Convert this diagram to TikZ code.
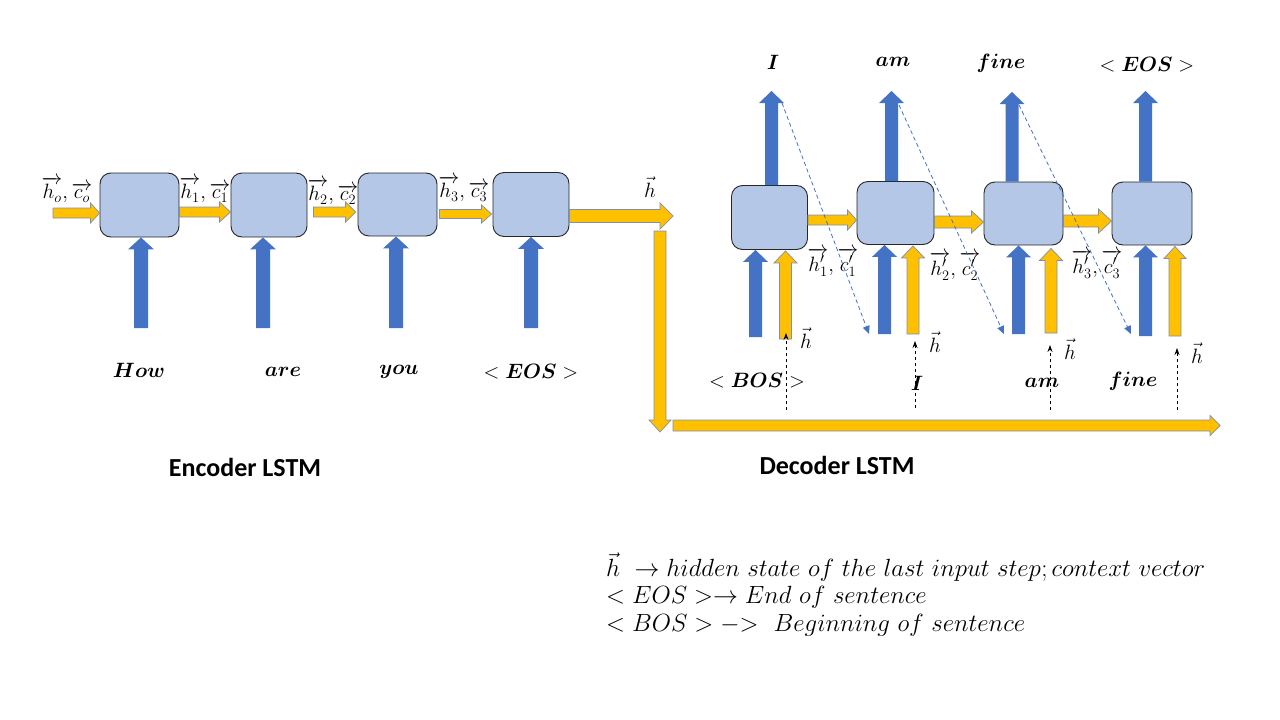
\documentclass[tikz,border=0pt]{standalone}
\usepackage{amsmath}
\usepackage{bm}
\usepackage{fontspec}
\newfontfamily\carlito{Carlito}
\usetikzlibrary{calc,arrows.meta}
\definecolor{ublue}{HTML}{4472C4}
\definecolor{uyellow}{HTML}{FFC000}
\definecolor{ubox}{HTML}{B4C7E7}
\definecolor{uline}{HTML}{7F8FB0}
% fat block arrow: [style]{start}{end}{shaft half width}{head half width}{head length}
\newcommand\fatarr[6][]{%
  \coordinate (fas) at (#2);
  \coordinate (fae) at (#3);
  \coordinate (fan) at ($(fae)!#6!(fas)$);
  \path[#1] ($(fas)!#4!90:(fae)$) -- ($(fan)!#4!90:(fae)$) -- ($(fan)!#5!90:(fae)$)
    -- (fae) -- ($(fan)!#5!-90:(fae)$) -- ($(fan)!#4!-90:(fae)$) -- ($(fas)!#4!-90:(fae)$) -- cycle;}
\tikzset{
  cell/.style={fill=ubox, draw=black!85, line width=0.9pt, rounded corners=11pt, inner sep=0pt},
  yarr/.style={fill=uyellow, draw=uline, line width=0.7pt, line join=miter},
  barr/.style={fill=ublue},
  lbl/.style={inner sep=0pt, font=\fontsize{20}{24}\selectfont},
  word/.style={inner sep=0pt, font=\fontsize{20}{24}\selectfont},
  title/.style={inner sep=0pt, font=\carlito\bfseries\fontsize{26}{30}\selectfont},
  legend/.style={inner sep=0pt, anchor=west, font=\fontsize{25}{30}\selectfont},
  diag/.style={draw=ublue, line width=0.8pt, dash pattern=on 4pt off 3pt, -{Triangle[length=8pt,width=7pt]}},
  feed/.style={draw=black, line width=0.8pt, dash pattern=on 3pt off 3pt, -{Stealth[length=7pt,width=5pt]}}
}
\begin{document}
\begin{tikzpicture}[x=1pt,y=-1pt]
\useasboundingbox (0,0) rectangle (1280,720);
\fill[white] (0,0) rectangle (1280,720);

% ---------------- Encoder ----------------
\node[cell, minimum width=79pt, minimum height=64pt] (e1) at (139.5,205) {};
\node[cell, minimum width=76pt, minimum height=64pt] (e2) at (269,205) {};
\node[cell, minimum width=79pt, minimum height=63pt] (e3) at (397.5,204.5) {};
\node[cell, minimum width=76pt, minimum height=64pt] (e4) at (531,204.5) {};

\coordinate (hin) at (53,213);
\coordinate (hout) at (673,216);
\fatarr[yarr]{hin}{e1.west |- hin}{5pt}{10pt}{9pt}
\fatarr[yarr]{$(e1.east)+(0,7)$}{$(e2.west)+(0,7)$}{5pt}{10pt}{11pt}
\fatarr[yarr]{$(e2.east)+(6,7)$}{$(e3.west)+(-2,7.5)$}{5pt}{10pt}{10pt}
\fatarr[yarr]{$(e3.east)+(2,9.5)$}{$(e4.west)+(-1,9.5)$}{4.5pt}{9pt}{10pt}
\fatarr[yarr]{e4.east |- hout}{hout}{6.5pt}{13pt}{13pt}

\coordinate (x1) at (141,328);
\coordinate (x2) at (263,328);
\coordinate (x3) at (396,328);
\coordinate (x4) at (531,328);
\fatarr[barr]{x1}{x1 |- e1.south}{7pt}{13pt}{12pt}
\fatarr[barr]{x2}{x2 |- e2.south}{7pt}{13pt}{12pt}
\fatarr[barr]{x3}{x3 |- e3.south}{7pt}{13pt}{12pt}
\fatarr[barr]{x4}{x4 |- e4.south}{7pt}{13pt}{12pt}

\node[lbl] (l0) at (67,190) {$\overrightarrow{h_o},\overrightarrow{c_o}$};
\node[lbl] (l1) at (205,190) {$\overrightarrow{h_1},\overrightarrow{c_1}$};
\node[lbl] (l2) at (333,192) {$\overrightarrow{h_2},\overrightarrow{c_2}$};
\node[lbl] (l3) at (464,189) {$\overrightarrow{h_3},\overrightarrow{c_3}$};
\node[lbl] (lh) at (650,187) {$\vec{h}$};

\node[word] (w1) at (139,370) {$\bm{How}$};
\node[word] (w2) at (283,372) {$\bm{are}$};
\node[word] (w3) at (399,372) {$\bm{you}$};
\node[word] (w4) at (531,372) {$<\bm{EOS}>$};

\node[title] (enc) at (245,467) {Encoder LSTM};

% context vector path
\coordinate (cv1) at (660,231);
\coordinate (cv2) at (660,432);
\coordinate (cv3) at (673,425.5);
\coordinate (cv4) at (1220,425.5);
\fatarr[yarr]{cv1}{cv2}{6pt}{11pt}{12pt}
\fatarr[yarr]{cv3}{cv4}{5.5pt}{10pt}{10pt}

% ---------------- Decoder ----------------
\node[cell, minimum width=76pt, minimum height=64pt] (d1) at (769.5,217.5) {};
\node[cell, minimum width=77pt, minimum height=63pt] (d2) at (895.5,213) {};
\node[cell, minimum width=79pt, minimum height=63pt] (d3) at (1023.5,213.5) {};
\node[cell, minimum width=80pt, minimum height=63pt] (d4) at (1152,213.5) {};

% outputs
\coordinate (o1) at (771.5,91);
\coordinate (o2) at (891.5,91);
\coordinate (o3) at (1012,92);
\coordinate (o4) at (1145.5,91);
\fatarr[barr]{o1 |- d1.north}{o1}{6.5pt}{12.5pt}{12pt}
\fatarr[barr]{o2 |- d2.north}{o2}{6.5pt}{12.5pt}{12pt}
\fatarr[barr]{o3 |- d3.north}{o3}{6.5pt}{12.5pt}{12pt}
\fatarr[barr]{o4 |- d4.north}{o4}{6.5pt}{12.5pt}{12pt}

\node[word] (y1) at (773,62) {$\bm{I}$};
\node[word] (y2) at (893,62) {$\bm{am}$};
\node[word] (y3) at (1001,63) {$\bm{fine}$};
\node[word] (y4) at (1147,65) {$<\bm{EOS}>$};

% recurrent arrows
\fatarr[yarr]{$(d1.east)+(0,2.5)$}{$(d2.west)+(0,7)$}{5pt}{10pt}{9pt}
\fatarr[yarr]{$(d2.east)+(0,9)$}{$(d3.west)+(0,8.5)$}{6pt}{11pt}{12pt}
\fatarr[yarr]{$(d3.east)+(0,7.5)$}{$(d4.west)+(0,7.5)$}{6pt}{12pt}{13pt}

% inputs (blue) and context (yellow)
\coordinate (bi1) at (755.5,337);
\coordinate (bi2) at (884.5,334);
\coordinate (bi3) at (1018.5,334);
\coordinate (bi4) at (1145.5,336);
\fatarr[barr]{bi1}{bi1 |- d1.south}{6.5pt}{12.5pt}{12pt}
\fatarr[barr]{bi2}{bi2 |- d2.south}{6.5pt}{12.5pt}{12pt}
\fatarr[barr]{bi3}{bi3 |- d3.south}{6.5pt}{12.5pt}{12pt}
\fatarr[barr]{bi4}{bi4 |- d4.south}{6.5pt}{12.5pt}{12pt}

\coordinate (yi1) at (785.5,339);
\coordinate (yi2) at (913,334);
\coordinate (yi3) at (1051,333);
\coordinate (yi4) at (1175,336);
\fatarr[yarr]{yi1}{$(yi1 |- d1.south)+(0,1)$}{6pt}{11.5pt}{12pt}
\fatarr[yarr]{yi2}{$(yi2 |- d2.south)+(0,1)$}{6pt}{11.5pt}{12pt}
\fatarr[yarr]{yi3}{$(yi3 |- d3.south)+(0,3)$}{6pt}{11.5pt}{12pt}
\fatarr[yarr]{yi4}{$(yi4 |- d4.south)+(0,1)$}{6pt}{11pt}{12pt}

% labels decoder
\node[lbl] (m1) at (833,262) {$\overrightarrow{h'_1},\overrightarrow{c'_1}$};
\node[lbl] (m2) at (955,266) {$\overrightarrow{h'_2},\overrightarrow{c'_2}$};
\node[lbl] (m3) at (1097,264) {$\overrightarrow{h'_3},\overrightarrow{c'_3}$};

\node[lbl] (v1) at (806,338) {$\vec{h}$};
\node[lbl] (v2) at (935,342) {$\vec{h}$};
\node[lbl] (v3) at (1070,349) {$\vec{h}$};
\node[lbl] (v4) at (1197,353) {$\vec{h}$};

% context feed (dashed)
\coordinate (f1) at (786,410);
\coordinate (f2) at (915,408);
\coordinate (f3) at (1050,410);
\coordinate (f4) at (1177,410);
\draw[feed] (f1) -- (786,333);
\draw[feed] (f2) -- (915,341);
\draw[feed] (f3) -- (1050,345);
\draw[feed] (f4) -- (1177,348);

\node[word] (u1) at (757,381) {$<\bm{BOS}>$};
\node[word] (u2) at (917,383) {$\bm{I}$};
\node[word] (u3) at (1042,383) {$\bm{am}$};
\node[word] (u4) at (1133,381) {$\bm{fine}$};

\node[title] (dec) at (837,465) {Decoder LSTM};

% feedback of outputs (dashed diagonals)
\coordinate (g1) at (782,103);
\coordinate (g2) at (899,105);
\coordinate (g3) at (1019,105);
\coordinate (k1) at (869,334);
\coordinate (k2) at (1004,334);
\coordinate (k3) at (1131,334);
\draw[diag] (g1) -- (k1);
\draw[diag] (g2) -- (k2);
\draw[diag] (g3) -- (k3);

% legend
\node[legend] (lg1) at (606,567) {$\vec{h}\ \rightarrow hidden\ state\ of\ the\ last\ input\ step;context\ vector$};
\node[legend] (lg2) at (606,597) {$<EOS>\rightarrow End\ of\ sentence$};
\node[legend] (lg3) at (606,625) {$<BOS>-{>}\ \ Beginning\ of\ sentence$};
\end{tikzpicture}
\end{document}
